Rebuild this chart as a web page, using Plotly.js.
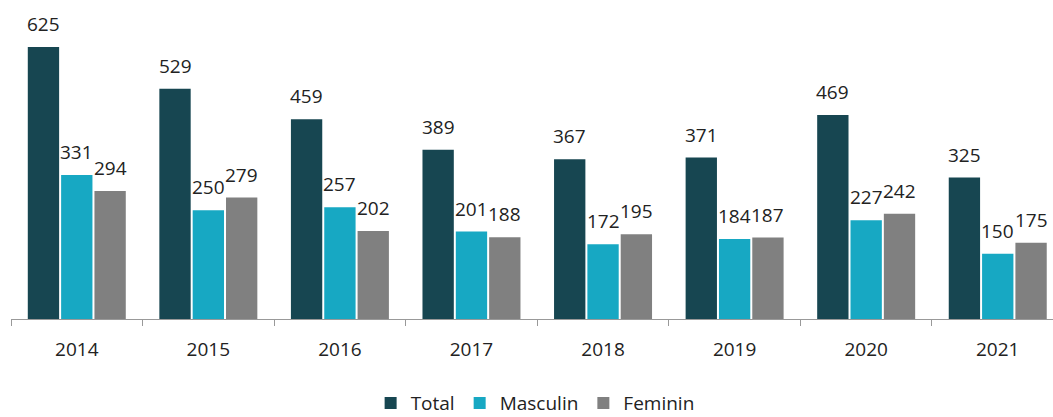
<!DOCTYPE html>
<html>
<head>
<meta charset="utf-8">
<script src="https://cdn.plot.ly/plotly-3.0.1.min.js"></script>
<style>html,body{margin:0;padding:0;background:#fff;overflow:hidden;width:1053px;height:417px;}</style>
</head>
<body>
<div id="chart" style="width:1053px;height:417px;overflow:hidden;"></div>
<script>
const years = ['2014','2015','2016','2017','2018','2019','2020','2021'];
const total = [625, 529, 459, 389, 367, 371, 469, 325];
const masculin = [331, 250, 257, 201, 172, 184, 227, 150];
const feminin = [294, 279, 202, 188, 195, 187, 242, 175];
const seriesNames = ['Total', 'Masculin', 'Feminin'];
const seriesColors = ['#174651', '#17A8C3', '#808080'];
const seriesValues = [total, masculin, feminin];

const font = {family: 'Open Sans, sans-serif', size: 19, color: '#222'};
const bargap = 0.24;

const data = seriesValues.map((vals, k) => ({
  type: 'bar', name: seriesNames[k], x: years, y: vals,
  marker: {color: seriesColors[k]},
  hoverinfo: 'skip'
}));

// value labels placed over each bar through the axes
const slot = (1 - bargap) / seriesValues.length;
const annotations = [];
seriesValues.forEach((vals, k) => {
  vals.forEach((v, i) => {
    annotations.push({
      x: i + (k - (seriesValues.length - 1) / 2) * slot,
      y: v, xref: 'x', yref: 'y',
      text: String(v), showarrow: false,
      yanchor: 'bottom', xanchor: 'center', yshift: 8,
      font: font
    });
  });
});

const layout = {
  width: 1053, height: 432,
  margin: {l: 11, r: 0, t: 10, b: 113},
  paper_bgcolor: '#fff', plot_bgcolor: '#fff',
  barmode: 'group', bargap: bargap, bargroupgap: 0.06,
  showlegend: true,
  legend: {orientation: 'h', x: 0.503, xanchor: 'center', y: -0.272, yanchor: 'middle',
           font: font, itemwidth: 30, traceorder: 'normal'},
  xaxis: {type: 'category', range: [-0.5, 7.42], showline: true, linecolor: '#999', linewidth: 1,
          ticks: 'outside', tickson: 'boundaries', ticklen: 6, tickcolor: '#999',
          tickfont: font, ticklabelstandoff: 13, showgrid: false, zeroline: false, fixedrange: true},
  yaxis: {range: [0, 710], visible: false, showgrid: false, zeroline: false, fixedrange: true},
  annotations: annotations,
  font: font
};
Plotly.newPlot('chart', data, layout, {displayModeBar: false, staticPlot: true});
</script>
</body>
</html>
